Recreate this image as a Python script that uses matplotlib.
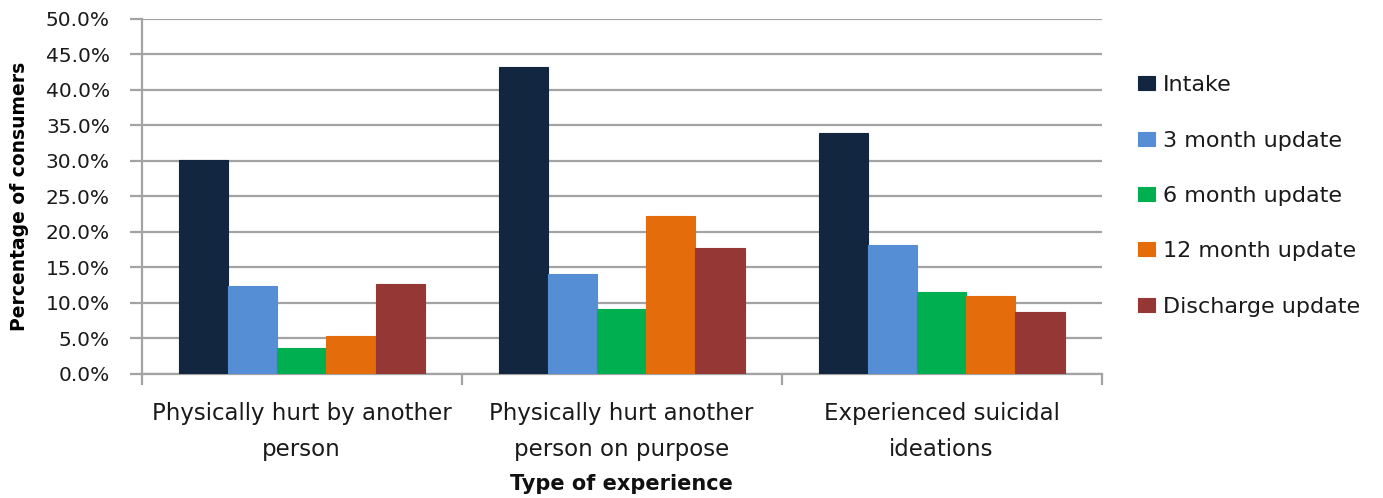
import matplotlib.pyplot as plt
import numpy as np
from matplotlib.ticker import FuncFormatter, FixedLocator

categories = ["Physically hurt by another\nperson",
              "Physically hurt another\nperson on purpose",
              "Experienced suicidal\nideations"]
series_names = ["Intake", "3 month update", "6 month update",
                "12 month update", "Discharge update"]
intake = [30.1, 43.2, 33.9]
month3 = [12.4, 14.1, 18.1]
month6 = [3.7, 9.1, 11.6]
month12 = [5.4, 22.3, 11.0]
discharge = [12.7, 17.8, 8.8]
y_ticks = [0, 5, 10, 15, 20, 25, 30, 35, 40, 45, 50]

colors = ["#13263F", "#558ED5", "#00B050", "#E46C0A", "#953735"]
series = [intake, month3, month6, month12, discharge]

plt.rcParams['font.family'] = ['DejaVu Sans']

fig = plt.figure(figsize=(13.83, 4.98), dpi=100)
ax = fig.add_axes([0.1025, 0.249, 0.694, 0.7129])

x = np.arange(len(categories))
n = len(series)
width = 1.0 / (n + 1.5)
for i, (vals, col, name) in enumerate(zip(series, colors, series_names)):
    offs = (i - (n - 1) / 2) * width
    ax.bar(x + offs, vals, width=width, color=col, label=name,
           edgecolor=col, linewidth=0.8, zorder=3)

ax.set_xlim(-0.5, len(categories) - 0.5)
ax.set_ylim(0, 50)
ax.set_yticks(y_ticks)
ax.yaxis.set_major_formatter(FuncFormatter(lambda v, p: f"{v:.1f}%"))
ax.grid(axis='y', color='#A3A3A3', linewidth=1.6, zorder=0)

ax.set_xticks(x)
ax.set_xticklabels(categories, fontsize=16.5, linespacing=1.75, color='#1a1a1a')
ax.xaxis.set_minor_locator(FixedLocator(np.arange(-0.5, len(categories), 1.0)))
ax.tick_params(axis='x', which='major', length=0, pad=20)
ax.tick_params(axis='x', which='minor', length=8, width=1.6, color='#A3A3A3')
ax.tick_params(axis='y', length=9, width=1.6, color='#A3A3A3',
               labelsize=14.5, pad=14, labelcolor='#1a1a1a')

for side in ['top', 'right']:
    ax.spines[side].set_visible(False)
for side in ['left', 'bottom']:
    ax.spines[side].set_color('#A3A3A3')
    ax.spines[side].set_linewidth(1.6)

ax.set_ylabel("Percentage of consumers", fontsize=13.5, fontweight='bold')
ax.yaxis.set_label_coords(-0.1174, 0.5)
fig.text(0.449, 1 - 484 / 498, "Type of experience", fontsize=15,
         fontweight='bold', ha='center', va='center', color='#111111')

leg = fig.legend(loc='center left', bbox_to_anchor=(0.8226, 0.6067),
                 frameon=False, fontsize=16, handlelength=0.8,
                 handleheight=0.6, handletextpad=0.35, labelspacing=1.59,
                 borderpad=0, borderaxespad=0)
for t in leg.get_texts():
    t.set_color('#1a1a1a')

fig.savefig("out.png", dpi=100)
